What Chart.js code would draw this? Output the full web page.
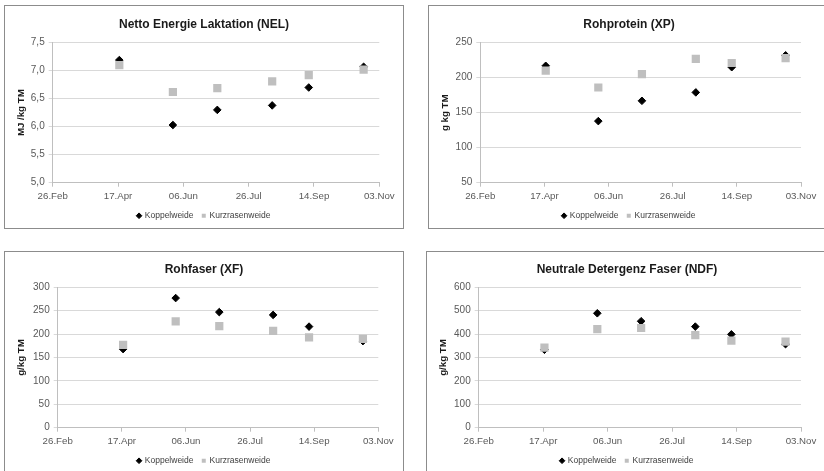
<!DOCTYPE html>
<html>
<head>
<meta charset="utf-8">
<script src="https://cdn.jsdelivr.net/npm/chart.js@4.4.1/dist/chart.umd.min.js"></script>
<style>
  body { margin: 0; background: #fff; width: 824px; height: 471px; overflow: hidden; position: relative; }
  .panel { position: absolute; border: 1px solid #8c8c8c; background: #fff; }
  .panel canvas { display: block; }
</style>
</head>
<body>
<div class="panel" style="left:4px;top:5px"><canvas id="nel" width="398" height="222"></canvas></div>
<div class="panel" style="left:428px;top:5px"><canvas id="xp" width="400" height="222"></canvas></div>
<div class="panel" style="left:4px;top:251px"><canvas id="xf" width="398" height="230"></canvas></div>
<div class="panel" style="left:426px;top:251px"><canvas id="ndf" width="400" height="230"></canvas></div>
<script>
// Probenahme-Termine und Achsenbeschriftung
const sampleDates = ["2013-04-18", "2013-05-29", "2013-07-02", "2013-08-13", "2013-09-10", "2013-10-22"]
const xTickDates = ["2013-02-26", "2013-04-17", "2013-06-06", "2013-07-26", "2013-09-14", "2013-11-03"]
const xTickLabels = ["26.Feb", "17.Apr", "06.Jun", "26.Jul", "14.Sep", "03.Nov"]
const seriesNames = ["Koppelweide", "Kurzrasenweide"]

const nelKoppel = [7.19, 6.03, 6.30, 6.38, 6.70, 7.07]
const nelKurz = [7.10, 6.62, 6.69, 6.81, 6.92, 7.02]
const xpKoppel = [217, 138, 167, 179, 215, 232]
const xpKurz = [210, 186, 205, 227, 221, 228]
const xfKoppel = [168, 277, 247, 241, 216, 185]
const xfKurz = [177, 227, 217, 207, 193, 190]
const ndfKoppel = [333, 489, 455, 432, 399, 357]
const ndfKurz = [342, 421, 426, 396, 372, 368]

const dayOfYear = s => {
  const d = new Date(s + "T00:00:00Z")
  return Math.round((d - Date.UTC(d.getUTCFullYear(), 0, 1)) / 86400000) + 1
}
const sampleDays = sampleDates.map(dayOfYear)
const xTickDays = xTickDates.map(dayOfYear)

const FONT = "'Liberation Sans', Arial, sans-serif"

function makeChart(id, cfg) {
  const toPoints = vals => vals.map((v, i) => ({ x: sampleDays[i], y: v }))
  return new Chart(document.getElementById(id), {
    type: "scatter",
    data: {
      datasets: [{
        label: seriesNames[0],
        data: toPoints(cfg.koppel),
        pointStyle: "rectRot",
        pointRadius: 3.8,
        borderWidth: 1,
        backgroundColor: "#000",
        borderColor: "#000",
        order: 1
      }, {
        label: seriesNames[1],
        data: toPoints(cfg.kurz),
        pointStyle: "rect",
        pointRadius: 5.8,
        borderWidth: 0,
        backgroundColor: "#bfbfbf",
        borderColor: "#bfbfbf",
        order: 0
      }]
    },
    options: {
      responsive: false,
      animation: false,
      events: [],
      layout: { padding: { left: 0, right: 0, top: 0, bottom: cfg.padBottom } },
      plugins: {
        title: {
          display: true,
          text: cfg.title,
          color: "#1a1a1a",
          font: { family: FONT, size: 12, weight: "bold" },
          padding: { top: cfg.titleTop, bottom: cfg.titleBottom }
        },
        legend: {
          position: "bottom",
          labels: {
            usePointStyle: true,
            boxWidth: 3,
            boxHeight: 4,
            padding: 8.8,
            color: "#404040",
            font: { family: FONT, size: 8.5 },
            sort: (a, b) => a.datasetIndex - b.datasetIndex
          }
        },
        tooltip: { enabled: false }
      },
      scales: {
        x: {
          type: "linear",
          min: xTickDays[0],
          max: xTickDays[xTickDays.length - 1],
          afterBuildTicks: s => { s.ticks = xTickDays.map(v => ({ value: v })) },
          afterFit: s => { s.height = 20 },
          ticks: {
            autoSkip: false,
            maxRotation: 0,
            padding: 4,
            color: "#595959",
            font: { family: FONT, size: 9.7 },
            callback: v => xTickLabels[xTickDays.indexOf(v)]
          },
          grid: { drawOnChartArea: false, tickLength: 4, color: "#bfbfbf" },
          border: { color: "#bfbfbf" }
        },
        y: {
          min: cfg.yMin,
          max: cfg.yMax,
          afterFit: s => { s.width = cfg.yWidth },
          ticks: {
            stepSize: cfg.yStep,
            padding: 4,
            color: "#595959",
            font: { family: FONT, size: 10 },
            callback: cfg.yFormat || (v => v)
          },
          grid: { color: "#d9d9d9", tickLength: 4 },
          border: { color: "#bfbfbf" },
          title: {
            display: true,
            text: cfg.yTitle,
            color: "#1a1a1a",
            font: { family: FONT, size: 9.7, weight: "bold" },
            padding: { top: 10.6, bottom: 0 }
          }
        },
        // leere rechte Achse: hält rechts Platz frei, ohne Titel und Legende zu verschieben
        spacer: {
          position: "right",
          afterFit: s => { s.width = cfg.padRight },
          ticks: { display: false },
          grid: { display: false },
          border: { display: false }
        }
      }
    }
  })
}

makeChart("nel", {
  title: "Netto Energie Laktation (NEL)", yTitle: "MJ /kg TM",
  koppel: nelKoppel, kurz: nelKurz,
  yMin: 5, yMax: 7.5, yStep: 0.5,
  yFormat: v => v.toFixed(1).replace(".", ","),
  yWidth: 47.7, padRight: 23.7, titleTop: 11.8, titleBottom: 10.5,
  padBottom: -2
})
makeChart("xp", {
  title: "Rohprotein (XP)", yTitle: "g kg TM",
  koppel: xpKoppel, kurz: xpKurz,
  yMin: 50, yMax: 250, yStep: 50,
  yWidth: 51.3, padRight: 28, titleTop: 11.8, titleBottom: 10.5,
  padBottom: -2
})
makeChart("xf", {
  title: "Rohfaser (XF)", yTitle: "g/kg TM",
  koppel: xfKoppel, kurz: xfKurz,
  yMin: 0, yMax: 300, yStep: 50,
  yWidth: 52.7, padRight: 24.7, titleTop: 10.1, titleBottom: 10.8,
  padBottom: 7
})
makeChart("ndf", {
  title: "Neutrale Detergenz Faser (NDF)", yTitle: "g/kg TM",
  koppel: ndfKoppel, kurz: ndfKurz,
  yMin: 0, yMax: 600, yStep: 100,
  yWidth: 51.7, padRight: 26, titleTop: 10.1, titleBottom: 10.8,
  padBottom: 7
})
</script>
</body>
</html>
